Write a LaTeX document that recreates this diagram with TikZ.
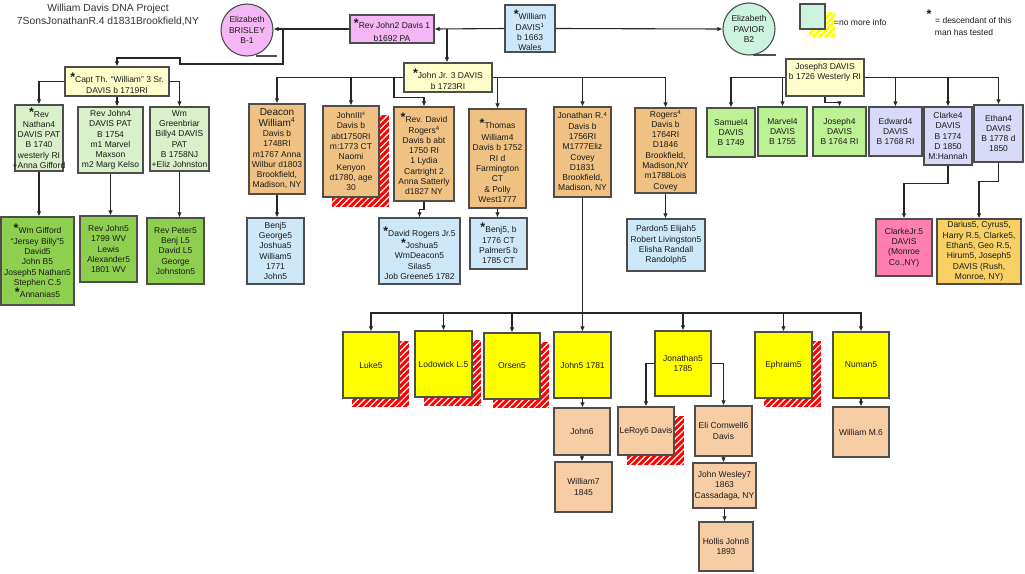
\documentclass[tikz,border=0pt]{standalone}
\usepackage{fontspec}
\setmainfont{Liberation Sans}
\usetikzlibrary{arrows.meta,fit,patterns.meta}
\definecolor{bordergrey}{HTML}{4D4D4D}
\definecolor{linec}{HTML}{262626}
\definecolor{txtc}{HTML}{1A1A1A}
\definecolor{lyellow}{HTML}{FFFFCC}
\definecolor{lgreen}{HTML}{DAF0C8}
\definecolor{mgreen}{HTML}{8ECF50}
\definecolor{lime}{HTML}{BDF294}
\definecolor{lav}{HTML}{D9D9F9}
\definecolor{tanc}{HTML}{EFC283}
\definecolor{lblue}{HTML}{CDE9F9}
\definecolor{yel}{HTML}{FFFF00}
\definecolor{peach}{HTML}{F7CDA6}
\definecolor{hotpink}{HTML}{FF80B0}
\definecolor{goldc}{HTML}{F9D063}
\definecolor{pinkv}{HTML}{F5B6F5}
\definecolor{mint}{HTML}{CCF2E0}
\definecolor{hred}{HTML}{FF0000}
\tikzset{
  box/.style={draw=bordergrey, line width=1.1pt, inner sep=0pt, rectangle},
  txt/.style={align=center, inner sep=0pt, text=txtc, font=\fontsize{8.5}{10.3}\selectfont},
  arr/.style={draw=linec, line width=1.1pt, -{Latex[length=5pt,width=4.5pt]}},
  ln/.style={draw=linec, line width=1.1pt},
  circ/.style={circle, draw=bordergrey, line width=1.1pt, minimum size=52pt, inner sep=0pt, align=center, text=txtc, font=\fontsize{8.5}{10.5}\selectfont}
}
\newcommand\st{\raisebox{1pt}{\fontsize{12.5}{12}\selectfont\bfseries*}}
\newcommand\bigdw{\fontsize{10}{11.5}\selectfont}
\newcommand\bx[8][0]{%
  \node[box,fill=#3,fit={(#4,#5)(#6,#7)}] (#2) {};
  \node[txt,yshift=#1pt] (#2-t) at (#2.center) {#8};}
\newcommand\hatch[5]{%
  \fill[#1] (#2,#3) rectangle (#4,#5);
  \fill[pattern={Lines[angle=45,distance=4.5pt,line width=1.2pt]},pattern color=white] (#2,#3) rectangle (#4,#5);}
\begin{document}
\begin{tikzpicture}[x=1pt,y=-1pt]
\fill[white] (0,0) rectangle (1025,573);
\useasboundingbox (0,0) rectangle (1025,573);

% title
\node[align=center, inner sep=0pt, text=black!80, font=\fontsize{10.3}{13}\selectfont] (title) at (108,15) {William Davis DNA Project\\7SonsJonathanR.4 d1831Brookfield,NY};

% top row
\node[circ, fill=pinkv] (brisley) at (247,30) {Elizabeth\\BRISLEY\\B-1};
\draw[bordergrey, line width=1.1pt] (256,56) -- (277,56);
\node[circ, fill=mint] (pavior) at (749,29) {Elizabeth\\PAVIOR\\B2};
\draw[bordergrey, line width=1.1pt] (753,55) -- (776,55);
\bx[-2]{william}{lblue}{505}{5}{555}{52}{\st William\\DAVIS\textsuperscript{1}\\b 1663\\Wales}
\bx[-1.5]{revjohn2}{pinkv}{350}{15}{434}{43}{\st Rev John2 Davis 1\\[3pt]b1692 PA}

% legend
\hatch{yel}{809}{12}{835}{37}
\node[box, fill=mint, fit={(800,4)(825,29)}] (legbox) {};
\node[txt, anchor=west] (legtxt) at (834,22) {=no more info};
\node[txt] (legstar) at (929,15) {\st};
\node[txt, anchor=west] (legd1) at (935,20) {= descendant of this};
\node[txt] (legd2) at (964,32) {man has tested};

% left family
\bx[-2]{capt}{lyellow}{65}{67}{169}{96}{\st Capt Th. “William” 3 Sr.\\[1pt]DAVIS b 1719RI}
\bx{nathan}{lgreen}{15}{105}{63}{171}{\st Rev\\Nathan4\\DAVIS PAT\\B 1740\\westerly RI\\+Anna Gifford}
\bx{rj4}{lgreen}{78}{107}{143}{173}{Rev John4\\DAVIS PAT\\B 1754\\m1 Marvel\\Maxson\\m2 Marg Kelso}
\bx{wmg}{lgreen}{150}{107}{209}{171}{Wm\\Greenbriar\\Billy4 DAVIS\\PAT\\B 1758NJ\\+Eliz Johnston}
\bx{gifford}{mgreen}{1}{217}{74}{305}{\st Wm Gifford\\“Jersey Billy”5\\David5\\John B5\\Joseph5 Nathan5\\Stephen C.5\\\st Annanias5}
\bx{rj5}{mgreen}{80}{216}{137}{282}{Rev John5\\1799 WV\\Lewis\\Alexander5\\1801 WV}
\bx{peter}{mgreen}{147}{218}{204}{284}{Rev Peter5\\Benj L5\\David L5\\George\\Johnston5}

% John Jr family
\bx[-2]{johnjr}{lyellow}{404}{63}{492}{92}{\st John Jr. 3 DAVIS\\[1pt]b 1723RI}
\bx{deacon}{tanc}{249}{104}{305}{194}{\bigdw Deacon\\\bigdw William\textsuperscript{4}\\Davis b\\1748RI\\m1767 Anna\\Wilbur d1803\\Brookfield,\\Madison, NY}
\hatch{hred}{332}{115}{389}{207}
\bx{john3}{tanc}{323}{106}{379}{197}{JohnIII\textsuperscript{\fontsize{5}{5}\selectfont 4}\\Davis b\\abt1750RI\\m:1773 CT\\Naomi\\Kenyon\\d1780, age\\30}
\bx{revdavid}{tanc}{394}{107}{454}{201}{\st Rev. David\\Rogers\textsuperscript{4}\\Davis b abt\\1750 RI\\1 Lydia\\Cartright 2\\Anna Satterly\\d1827 NY}
\bx[-2]{thomas}{tanc}{469}{109}{526}{208}{\st Thomas\\[2pt]William4\\Davis b 1752\\RI d\\Farmington\\CT\\\& Polly\\West1777}
\bx{jonr}{tanc}{554}{107}{611}{197}{Jonathan R.\textsuperscript{4}\\Davis b\\1756RI\\M1777Eliz\\Covey\\D1831\\Brookfield,\\Madison, NY}
\bx{rogers}{tanc}{635}{108}{696}{193}{Rogers\textsuperscript{4}\\Davis b\\1764RI\\D1846\\Brookfield,\\Madison,NY\\m1788Lois\\Covey}
\bx{benj}{lblue}{247}{218}{304}{284}{Benj5\\George5\\Joshua5\\William5\\1771\\John5}
\bx[-2]{drj}{lblue}{379}{218}{460}{284}{\st David Rogers Jr.5\\\st Joshua5\\WmDeacon5\\Silas5\\Job Greene5 1782}
\bx{benjb}{lblue}{470}{218}{527}{269}{\st Benj5, b\\1776 CT\\Palmer5 b\\1785 CT}
\bx{pardon}{lblue}{627}{219}{705}{271}{Pardon5 Elijah5\\Robert Livingston5\\Elisha Randall\\Randolph5}

% Joseph3 family
\bx[5]{joseph3}{lyellow}{786}{59}{864}{96}{Joseph3 DAVIS\\b 1726 Westerly RI}
\bx{samuel}{lime}{707}{108}{755}{157}{Samuel4\\DAVIS\\B 1749}
\bx{marvel}{lime}{758}{107}{807}{156}{Marvel4\\DAVIS\\B 1755}
\bx{joseph4}{lime}{813}{107}{866}{156}{Joseph4\\DAVIS\\B 1764 RI}
\bx{edward}{lav}{869}{107}{922}{156}{Edward4\\DAVIS\\B 1768 RI}
\bx{clarke}{lav}{924}{107}{972}{165}{Clarke4\\DAVIS\\B 1774\\D 1850\\M:Hannah}
\bx{ethan}{lav}{974}{105}{1023}{162}{Ethan4\\DAVIS\\B 1778 d\\1850}
\bx{clarkejr}{hotpink}{876}{219}{932}{276}{ClarkeJr.5\\DAVIS\\(Monroe\\Co.,NY)}
\bx{darius}{goldc}{937}{219}{1021}{284}{Darius5, Cyrus5,\\Harry R.5, Clarke5,\\Ethan5, Geo R.5,\\Hirum5, Joseph5\\DAVIS (Rush,\\Monroe, NY)}

% seven sons
\hatch{hred}{352}{341}{409}{407}
\bx{luke}{yel}{343}{332}{399}{398}{Luke5}
\hatch{hred}{424}{340}{481}{406}
\bx{lodo}{yel}{415}{331}{472}{397}{Lodowick L.5}
\hatch{hred}{493}{342}{549}{408}
\bx{orsen}{yel}{484}{333}{540}{399}{Orsen5}
\bx{john5}{yel}{554}{332}{611}{398}{John5 1781}
\bx{jonathan5}{yel}{655}{331}{711}{396}{Jonathan5\\1785}
\hatch{hred}{764}{341}{821}{407}
\bx{ephraim}{yel}{755}{332}{812}{398}{Ephraim5}
\bx{numan}{yel}{833}{332}{889}{398}{Numan5}

% later generations
\bx{john6}{peach}{554}{408}{610}{455}{John6}
\bx{william7}{peach}{555}{462}{612}{512}{William7\\1845}
\hatch{hred}{627}{416}{684}{465}
\bx{leroy}{peach}{618}{407}{674}{455}{LeRoy6 Davis}
\bx{eli}{peach}{695}{406}{752}{456}{Eli Cornwell6\\Davis}
\bx{wesley}{peach}{693}{463}{756}{508}{John Wesley7\\1863\\Cassadaga, NY}
\bx{hollis}{peach}{699}{522}{753}{571}{Hollis John8\\1893}
\bx{williamm}{peach}{833}{407}{889}{457}{William M.6}

% connectors: top
\draw[arr] (william.west) -- (revjohn2.east);
\draw[arr] (william.east) -- (pavior.west);
\draw[arr] (revjohn2.west) -- (revjohn2.west -| brisley.east);
\coordinate (jb) at (283,29);
\coordinate (b1) at (180,64);
\coordinate (b2) at (180,58);
\draw[arr] (jb) |- (b1) -- (b2) -| (capt.north);
\coordinate (jw) at (447,29);
\draw[arr] (jw) -- (jw |- johnjr.north);

% left family
\draw[arr] (capt.west) -| (nathan.north);
\draw[arr] (capt.south) -- (capt.south |- rj4.north);
\draw[arr] (capt.east) -| (wmg.north);
\draw[arr] (nathan.south) -- (nathan.south |- gifford.north);
\draw[arr] (rj4.south) -- (rj4.south |- rj5.north);
\draw[arr] (wmg.south) -- (wmg.south |- peter.north);

% John Jr family
\draw[arr] (johnjr.west) -| (deacon.north);
\draw[arr] (johnjr.west) -| (john3.north);
\coordinate (rd) at (394,77.5);
\draw[arr] (rd) -- ++(0,20) -| (revdavid.north);
\draw[arr] (johnjr.east) -| (thomas.north);
\draw[arr] (johnjr.east) -| (jonr.north);
\draw[arr] (johnjr.east) -| (rogers.north);
\draw[arr] (deacon.south) -- (deacon.south |- benj.north);
\draw[arr] (revdavid.south) -- ++(0,8) -| (drj.north);
\draw[arr] (thomas.south) -- (thomas.south |- benjb.north);
\draw[arr] (rogers.south) -- (rogers.south |- pardon.north);

% Joseph3 family
\draw[arr] (joseph3.west) -| (samuel.north);
\draw[arr] (joseph3.west) -| (marvel.north);
\draw[arr] (joseph3.south) -- ++(0,6) -| (joseph4.north);
\draw[arr] (joseph3.east) -| (edward.north);
\draw[arr] (joseph3.east) -| (clarke.north);
\draw[arr] (joseph3.east) -| (ethan.north);
\draw[arr] (clarke.south) -- ++(0,18) -| (clarkejr.north);
\draw[arr] (ethan.south) -- ++(0,19) -| (darius.north);

% seven sons
\coordinate (y313) at (0,313);
\coordinate (hub) at (jonr.south |- y313);
\draw[ln] (jonr.south) -- (hub);
\foreach \n in {luke,lodo,orsen,john5,jonathan5,ephraim,numan}
  \draw[arr] (hub) -| (\n.north);
\draw[arr] (jonathan5.west) -| (leroy.north);
\draw[arr] (jonathan5.east) -| (eli.north);
\draw[arr] (john5.south) -- (john5.south |- john6.north);
\draw[arr] (john6.south) -- (john6.south |- william7.north);
\draw[arr] (eli.south) -- (eli.south |- wesley.north);
\draw[arr] (wesley.south) -- (wesley.south |- hollis.north);
\draw[arr] (numan.south) -- (numan.south |- williamm.north);
\end{tikzpicture}
\end{document}
